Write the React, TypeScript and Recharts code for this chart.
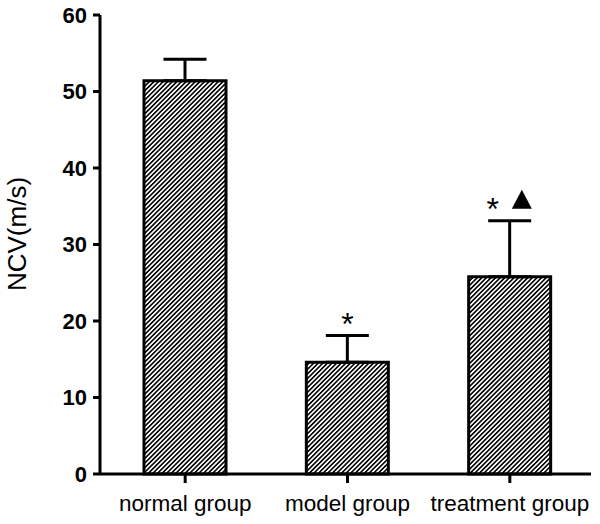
import React from "react";
import {
  BarChart,
  Bar,
  XAxis,
  YAxis,
  ErrorBar,
  ReferenceDot,
  Label,
} from "recharts";

const GROUPS = ["normal group", "model group", "treatment group"];
const MEANS = [51.4, 14.6, 25.8];
const SD_UP = [2.8, 3.5, 7.3];
// significance marks: * vs normal, ▲ vs model
const STAR = [false, true, true];
const TRIANGLE = [false, false, true];
const Y_TICKS = [0, 10, 20, 30, 40, 50, 60];

const data = GROUPS.map((g, i) => ({
  group: g,
  ncv: MEANS[i],
  err: [0, SD_UP[i]],
}));

const FONT = "'Liberation Sans', Arial, Helvetica, sans-serif";

function SigMark({ cx, cy, star, tri }: { cx?: number; cy?: number; star: boolean; tri: boolean }) {
  if (cx == null || cy == null) return null;
  const sx = tri ? cx - 17 : cx;
  return (
    <g>
      {star ? (
        <text
          x={sx}
          y={cy - 1}
          textAnchor="middle"
          fontFamily={FONT}
          fontSize={32}
          fill="#000"
        >
          *
        </text>
      ) : null}
      {tri ? (
        <polygon
          points={`${cx + 12},${cy - 31} ${cx + 2},${cy - 12} ${cx + 22},${cy - 12}`}
          fill="#000"
        />
      ) : null}
    </g>
  );
}

export default function App() {
  return (
    <div style={{ position: "absolute", left: 0, top: 0, background: "#fff" }}>
      <BarChart
        width={600}
        height={524}
        data={data}
        margin={{ top: 15, right: 9, bottom: 0, left: 0 }}
        barSize={82}
      >
        <defs>
          <pattern
            id="hatch"
            patternUnits="userSpaceOnUse"
            width={3.25}
            height={3.25}
            patternTransform="rotate(45)"
          >
            <rect width={3.25} height={3.25} fill="#fff" />
            <line x1={0.8} y1={0} x2={0.8} y2={3.25} stroke="#000" strokeWidth={1.6} />
          </pattern>
        </defs>
        <XAxis
          dataKey="group"
          height={50}
          padding={{ left: 4, right: 0 }}
          axisLine={{ stroke: "#000", strokeWidth: 3 }}
          tickLine={{ stroke: "#000", strokeWidth: 3 }}
          tickSize={9}
          tickMargin={12}
          tick={{ fill: "#000", fontSize: 22.5, fontFamily: FONT }}
          interval={0}
        />
        <YAxis
          width={100}
          domain={[0, 60]}
          ticks={Y_TICKS}
          interval={0}
          axisLine={{ stroke: "#000", strokeWidth: 3 }}
          tickLine={{ stroke: "#000", strokeWidth: 3 }}
          tickSize={7}
          tickMargin={6}
          tick={{ fill: "#000", fontSize: 22, fontWeight: "bold", fontFamily: FONT }}
        >
          <Label
            content={() => (
              <text
                x={0}
                y={0}
                transform="translate(26 234) rotate(-90)"
                textAnchor="middle"
                fontFamily={FONT}
                fontSize={26}
                fill="#000"
              >
                NCV(m/s)
              </text>
            )}
          />
        </YAxis>
        <Bar
          dataKey="ncv"
          fill="url(#hatch)"
          stroke="#000"
          strokeWidth={3}
          isAnimationActive={false}
        >
          <ErrorBar
            dataKey="err"
            direction="y"
            width={21.5}
            stroke="#000"
            strokeWidth={3}
            isAnimationActive={false}
          />
        </Bar>
        {data.map((d, i) =>
          STAR[i] || TRIANGLE[i] ? (
            <ReferenceDot
              key={d.group}
              x={d.group}
              y={MEANS[i] + SD_UP[i]}
              r={0}
              isFront
              shape={(p: any) => (
                <SigMark cx={p.cx} cy={p.cy} star={STAR[i]} tri={TRIANGLE[i]} />
              )}
            />
          ) : null
        )}
      </BarChart>
    </div>
  );
}
